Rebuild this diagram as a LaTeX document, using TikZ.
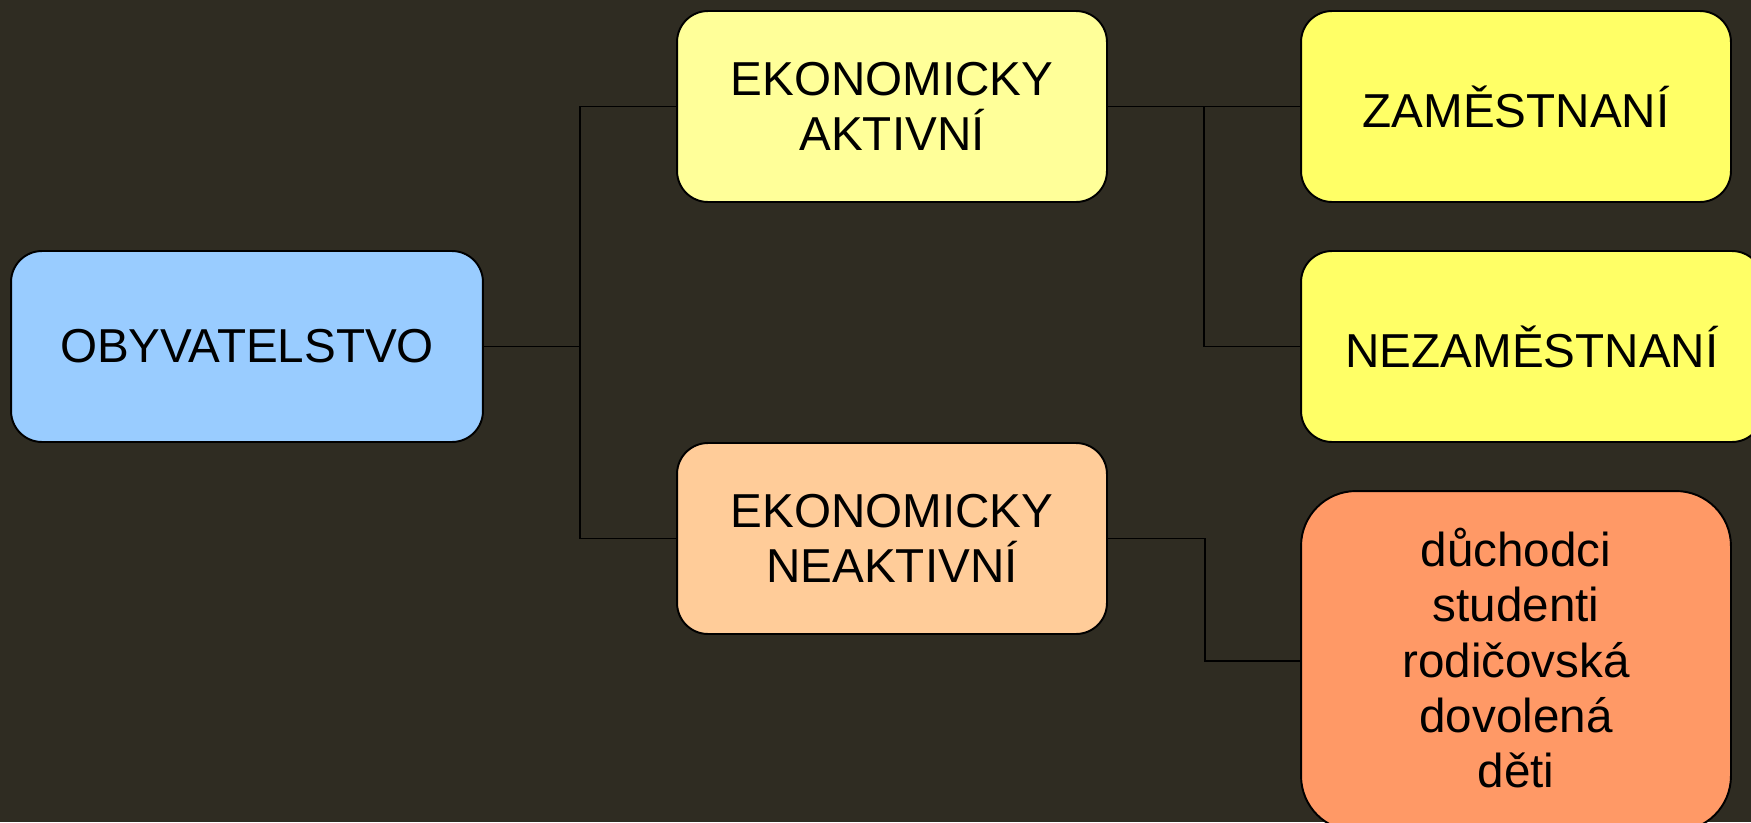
\documentclass[tikz,border=0pt]{standalone}
\usepackage{fontspec}
\setmainfont{Liberation Sans}
\definecolor{bg}{HTML}{2F2C22}
\definecolor{cblue}{HTML}{99CCFF}
\definecolor{clyellow}{HTML}{FFFF99}
\definecolor{cpeach}{HTML}{FFCC99}
\definecolor{cyellow}{HTML}{FFFF66}
\definecolor{corange}{HTML}{FF9966}
\begin{document}
\begin{tikzpicture}[x=0.02cm,y=-0.02cm,
  box/.style={draw=black,line width=1.1pt,rounded corners=0.62cm,align=center,inner sep=0pt,
    minimum width=8.6cm,minimum height=3.82cm,font=\fontsize{27.1}{31.5}\selectfont},
  conn/.style={draw=black,line width=1.1pt}]
\fill[bg] (0,0) rectangle (1751,822);
\useasboundingbox (0,0) rectangle (1751,822);
\node[box,fill=cblue,minimum width=9.44cm] (oby) at (247,346.5) {OBYVATELSTVO};
\node[box,fill=clyellow] (ea) at (892,106.5) {EKONOMICKY\\AKTIVNÍ};
\node[box,fill=cpeach] (en) at (892,538.5) {EKONOMICKY\\NEAKTIVNÍ};
\node[box,fill=cyellow] (zam) at (1516,106.5) {ZAMĚSTNANÍ};
\node[box,fill=cyellow,minimum width=9.24cm] (nez) at (1532,346.5) {NEZAMĚSTNANÍ};
\node[box,fill=corange,minimum height=6.8cm,rounded corners=1.1cm,text depth=0.12cm] (duch) at (1516,661)
  {důchodci\\studenti\\rodičovská\\dovolená\\děti};
\coordinate (j1) at (580,346.5);
\coordinate (j2) at (1204,106.5);
\draw[conn] (oby.east) -- (j1);
\draw[conn] (ea.west) -| (j1) |- (en.west);
\draw[conn] (ea.east) -- (zam.west);
\draw[conn] (j2) |- (nez.west);
\draw[conn] (en.east) -- ++(97,0) |- (duch.west);
\end{tikzpicture}
\end{document}
